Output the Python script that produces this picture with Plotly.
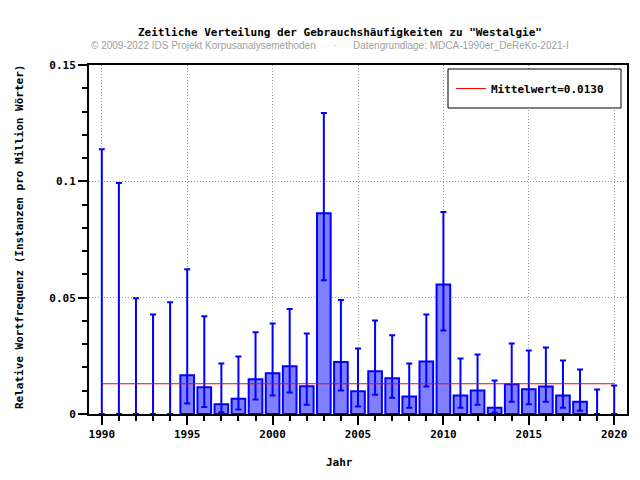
import plotly.graph_objects as go

years = list(range(1990, 2021))
values = [0, 0, 0, 0, 0, 0.0167, 0.0115, 0.0042, 0.0066, 0.0149,
          0.0175, 0.0205, 0.0119, 0.0863, 0.0223, 0.0098, 0.0184, 0.0154,
          0.0075, 0.0226, 0.0557, 0.0079, 0.0101, 0.0027, 0.0128, 0.0106,
          0.0118, 0.0079, 0.0053, 0, 0]
upper = [0.1138, 0.0993, 0.0497, 0.0428, 0.0480, 0.0622, 0.0420, 0.0217,
         0.0247, 0.0351, 0.0389, 0.0451, 0.0346, 0.1294, 0.0490, 0.0282,
         0.0402, 0.0338, 0.0217, 0.0428, 0.0868, 0.0239, 0.0256, 0.0144,
         0.0303, 0.0273, 0.0286, 0.0230, 0.0191, 0.0105, 0.0122]
lower = [0, 0, 0, 0, 0, 0.0045, 0.0030, 0.0007, 0.0019, 0.0062, 0.0079,
         0.0092, 0.0040, 0.0575, 0.0101, 0.0032, 0.0083, 0.0070, 0.0027,
         0.0118, 0.0359, 0.0027, 0.0040, 0.0006, 0.0053, 0.0042, 0.0053,
         0.0027, 0.0014, 0, 0]
mean_value = 0.0130
mean_label = "Mittelwert=0.0130"

title = 'Zeitliche Verteilung der Gebrauchshäufigkeiten zu "Westalgie"'
sub_left = "© 2009-2022 IDS Projekt Korpusanalysemethoden"
sub_dot = "·"
sub_right = "Datengrundlage: MDCA-1990er_DeReKo-2021-I"
x_title = "Jahr"
y_title = "Relative Wortfrequenz (Instanzen pro Million Wörter)"

MONO = "DejaVu Sans Mono"
SANS = "Liberation Sans"
BLUE = "#0000ff"
GREY = "#a0a0a0"
GRID = "#999999"
GRIDDASH = "1px,2px"

err_plus = [u - v for u, v in zip(upper, values)]
err_minus = [v - l for v, l in zip(values, lower)]
outline_w = [2 if v > 0 else 0 for v in values]

fig = go.Figure()
fig.add_trace(go.Bar(
    x=years, y=values, width=0.8,
    marker=dict(color="#8080ff", line=dict(color=BLUE, width=outline_w)),
    error_y=dict(type="data", array=err_plus, arrayminus=err_minus,
                 symmetric=False, color=BLUE, thickness=2, width=3),
    showlegend=False,
))
fig.add_trace(go.Scatter(
    x=[years[0], years[-1]], y=[mean_value, mean_value], mode="lines",
    line=dict(color="#ff0000", width=1), name=mean_label,
))

# page body has an 8px margin: work in window pixels, convert to figure pixels
OFF = 8
W, H = 640 - OFF, 480 - OFF
PL, PR, PT, PB = 89, 627, 65, 414  # plot area in window pixels
L, T = PL - OFF, PT - OFF
R, B = W - (PR - OFF), H - (PB - OFF)
PW, PH = PR - PL, PB - PT

def px_x(p):
    return (p - PL) / PW

def px_y(p):
    return 1 - (p - PT) / PH

fig.update_layout(
    width=W, height=H,
    margin=dict(l=L, r=R, t=T, b=B, autoexpand=False),
    paper_bgcolor="white", plot_bgcolor="white",
    font=dict(family=MONO, size=11, color="black", weight="bold"),
    showlegend=True,
    legend=dict(x=px_x(451), y=px_y(88.5), xanchor="left", yanchor="middle",
                borderwidth=0, bgcolor="rgba(0,0,0,0)",
                font=dict(family=MONO, size=11, weight="bold"),
                itemwidth=30),
    xaxis=dict(range=[1989.25, 2020.75], tick0=1990, dtick=5,
               ticks="outside", ticklen=9, tickwidth=2, tickcolor="black",
               showline=True, linecolor="black", linewidth=2, mirror=True,
               showgrid=True, gridcolor=GRID, griddash=GRIDDASH, gridwidth=1,
               zeroline=False,
               minor=dict(dtick=1, tick0=1990, ticks="outside", ticklen=5,
                          tickwidth=2, tickcolor="black", showgrid=False),
               tickfont=dict(family=MONO, size=11, weight="bold")),
    yaxis=dict(range=[0, 0.15], tick0=0, dtick=0.05,
               ticks="outside", ticklen=9, tickwidth=2, tickcolor="black",
               showline=True, linecolor="black", linewidth=2, mirror=True,
               showgrid=True, gridcolor=GRID, griddash=GRIDDASH, gridwidth=1,
               zeroline=False,
               minor=dict(dtick=0.01, tick0=0, ticks="outside", ticklen=5,
                          tickwidth=2, tickcolor="black", showgrid=False),
               tickfont=dict(family=MONO, size=11, weight="bold")),
)

# legend frame
fig.add_shape(type="rect", xref="paper", yref="paper",
              x0=px_x(448), x1=px_x(621), y0=px_y(108), y1=px_y(69),
              line=dict(color="black", width=1), fillcolor="white", layer="above")

ann = [
    dict(text=title, x=px_x(340), y=px_y(33), font=dict(family=MONO, size=11, weight="bold")),
    dict(text=sub_left, x=px_x(203), y=px_y(46),
         font=dict(family=SANS, size=10, color=GREY, weight="normal")),
    dict(text=sub_dot, x=px_x(334), y=px_y(46),
         font=dict(family=SANS, size=10, color=GREY, weight="normal")),
    dict(text=sub_right, x=px_x(461), y=px_y(46),
         font=dict(family=SANS, size=10, color=GREY, weight="normal")),
    dict(text=x_title, x=px_x(339), y=px_y(462), font=dict(family=MONO, size=11, weight="bold")),
    dict(text=y_title, x=px_x(19), y=px_y(237), textangle=-90,
         font=dict(family=MONO, size=11, weight="bold")),
]
for a in ann:
    fig.add_annotation(xref="paper", yref="paper", showarrow=False,
                       xanchor="center", yanchor="middle", **a)

fig.write_html("out.html")
